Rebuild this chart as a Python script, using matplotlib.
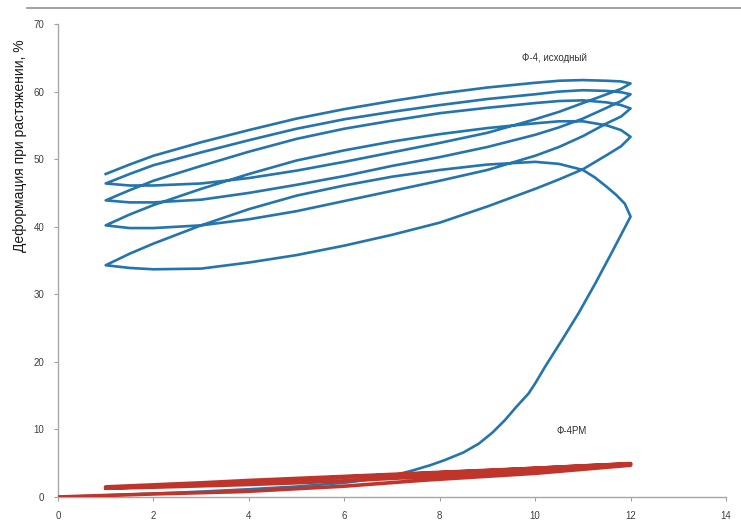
import matplotlib
matplotlib.use("Agg")
import matplotlib.pyplot as plt
from matplotlib.lines import Line2D

plt.rcParams['font.family'] = ['Liberation Sans', 'DejaVu Sans']

# ---------------- data ----------------
# first loading of F-4 (blue), from the origin to x = 12
load1_x = [0, 1, 2, 3, 4, 5, 6, 6.5, 7, 7.42, 7.8, 8.12, 8.5, 8.82, 9.1, 9.37, 9.6, 9.86,
           10.0, 10.21, 10.56, 10.91, 11.26, 11.6, 12]
load1_y = [0, 0.25, 0.5, 0.8, 1.15, 1.55, 2.1, 2.55, 3.15, 3.9, 4.7, 5.5, 6.6, 7.9, 9.5, 11.4,
           13.3, 15.3, 16.8, 19.3, 23.2, 27.2, 31.6, 36.1, 41.5]

# first unloading (own x points, sharper turn near x = 12)
unload1_x = [1, 1.5, 2, 3, 4, 5, 6, 7, 8, 9, 10, 10.5, 11, 11.25, 11.5, 11.7, 11.88, 12]
unload1_y = [34.3, 36.0, 37.5, 40.2, 42.6, 44.6, 46.1, 47.4, 48.4, 49.2, 49.6, 49.3, 48.4, 47.3,
             45.9, 44.7, 43.4, 41.5]

# common x grid for the other cyclic branches between x = 1 and x = 12
cycle_x = [1, 1.5, 2, 3, 4, 5, 6, 7, 8, 9, 10, 10.5, 11, 11.5, 11.8, 12]

load2_y   = [34.3, 33.9, 33.7, 33.8, 34.7, 35.8, 37.2, 38.8, 40.6, 43.0, 45.6, 47.0, 48.5, 50.6, 51.9, 53.3]
unload2_y = [40.2, 41.8, 43.2, 45.6, 47.8, 49.8, 51.3, 52.6, 53.7, 54.6, 55.3, 55.6, 55.6, 55.0, 54.3, 53.3]
load3_y   = [40.2, 39.8, 39.8, 40.2, 41.1, 42.3, 43.8, 45.3, 46.8, 48.4, 50.5, 51.8, 53.4, 55.3, 56.3, 57.5]
unload3_y = [43.9, 45.4, 46.8, 49.0, 51.1, 53.0, 54.5, 55.7, 56.8, 57.6, 58.3, 58.6, 58.7, 58.4, 58.0, 57.5]
load4_y   = [43.9, 43.6, 43.6, 44.0, 45.0, 46.2, 47.5, 49.0, 50.3, 51.8, 53.6, 54.7, 56.0, 57.6, 58.6, 59.6]
unload4_y = [46.4, 47.8, 49.1, 51.0, 52.8, 54.5, 55.9, 57.0, 58.0, 58.9, 59.6, 60.0, 60.2, 60.1, 59.9, 59.6]
load5_y   = [46.4, 46.1, 46.1, 46.4, 47.2, 48.3, 49.6, 51.0, 52.4, 53.9, 55.9, 57.0, 58.3, 59.6, 60.4, 61.2]
unload5_y = [47.8, 49.2, 50.5, 52.5, 54.3, 56.0, 57.4, 58.6, 59.7, 60.6, 61.3, 61.6, 61.7, 61.6, 61.5, 61.2]

# F-4RM (red)
red_load0_x = [0, 2, 3.87, 6, 7.7, 10, 12]
red_load0_y = [0, 0.45, 0.8, 1.6, 2.5, 3.5, 4.7]
red_x = [1, 2, 3, 4, 5, 6, 7, 8, 9, 10, 11, 12]
red_unloadA_y = [1.5, 1.8, 2.1, 2.45, 2.75, 3.05, 3.35, 3.65, 3.95, 4.25, 4.6, 4.9]
red_loadB_y   = [1.3, 1.45, 1.65, 1.85, 2.1, 2.4, 2.75, 3.1, 3.5, 3.95, 4.4, 4.9]
red_unloadB_y = [1.3, 1.6, 1.95, 2.3, 2.6, 2.95, 3.25, 3.6, 3.9, 4.25, 4.6, 4.95]

label_f4 = "Ф-4, исходный"
label_f4rm = "Ф-4РМ"
y_label = "Деформация при растяжении, %"
x_ticks = [0, 2, 4, 6, 8, 10, 12, 14]
y_ticks = [0, 10, 20, 30, 40, 50, 60, 70]

# ------------- build paths -------------
blue_x = list(load1_x) + unload1_x[::-1]
blue_y = list(load1_y) + unload1_y[::-1]
branches = [load2_y, unload2_y, load3_y, unload3_y, load4_y, unload4_y, load5_y, unload5_y]
for i, b in enumerate(branches):
    if i % 2 == 0:  # loading: from x=1 to x=12
        blue_x += cycle_x
        blue_y += b
    else:           # unloading: from x=12 back to x=1
        blue_x += cycle_x[::-1]
        blue_y += b[::-1]

red_px = list(red_load0_x) + red_x[::-1] + red_x + red_x[::-1]
red_py = list(red_load0_y) + red_unloadA_y[::-1] + red_loadB_y + red_unloadB_y[::-1]

# ------------- figure -------------
fig = plt.figure(figsize=(7.41, 5.21), dpi=100)
ax = fig.add_axes([58 / 741, 24 / 521, (726 - 58) / 741, (497 - 24) / 521])

ax.plot(blue_x, blue_y, color="#2475ad", lw=1.9, solid_joinstyle="round", zorder=2)
ax.plot(red_px, red_py, color="#c0352b", lw=2.6, solid_joinstyle="round", zorder=3)

ax.set_xlim(0, 14)
ax.set_ylim(0, 70)
ax.set_xticks(x_ticks)
ax.set_yticks(y_ticks)
ax.tick_params(axis="both", direction="out", length=3, width=0.8, color="#a0a0a0",
               labelsize=7, labelcolor="#404040", pad=7)

for s in ["top", "right"]:
    ax.spines[s].set_visible(False)
for s in ["left", "bottom"]:
    ax.spines[s].set_color("#a8a8a8")
    ax.spines[s].set_linewidth(1.0)

ax.text(10.4, 65.0, label_f4, fontsize=7, color="#303030", ha="center", va="center")
ax.text(10.77, 9.7, label_f4rm, fontsize=7, color="#303030", ha="center", va="center")

fig.text(20 / 741, 1 - 146 / 521, y_label, rotation=90, fontsize=10, color="#1a1a1a",
         ha="center", va="center")

fig.add_artist(Line2D([27 / 741, 1.0], [1 - 8 / 521, 1 - 8 / 521], color="#9a9a9a", lw=1.3,
                      transform=fig.transFigure))

fig.savefig("out.png", dpi=100)
